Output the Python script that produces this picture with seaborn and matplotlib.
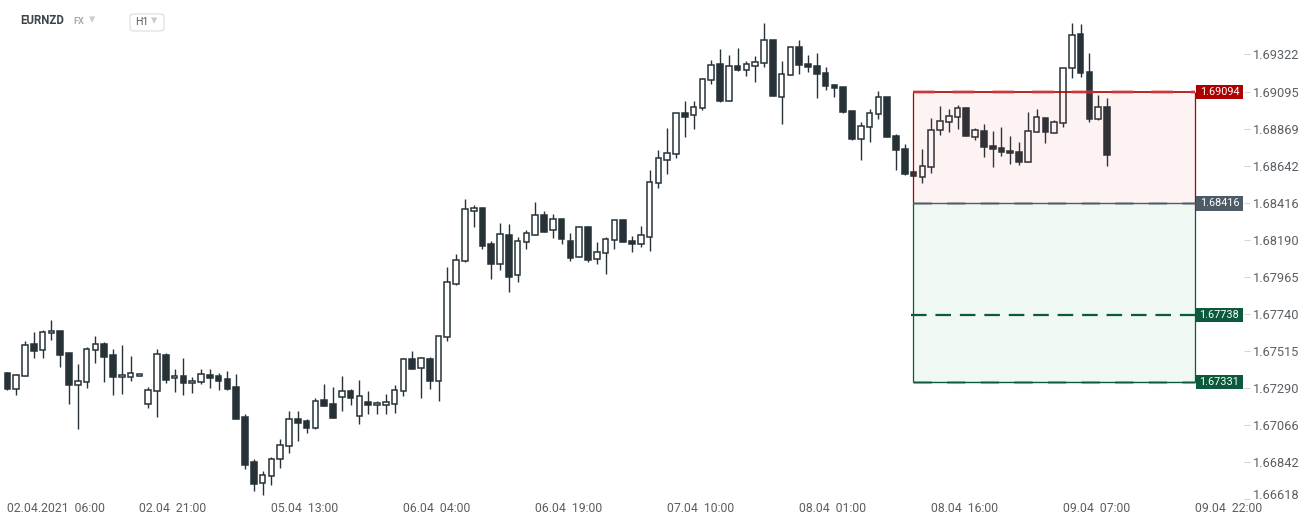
import seaborn as sns
import matplotlib.pyplot as plt
import matplotlib.patches as mpatches
import matplotlib.transforms as mtrans
import pandas as pd

# hourly EURNZD candles, 02.04.2021 06:00 onwards
opens = [1.67384, 1.67289, 1.67364, 1.67561, 1.67522, 1.67626, 1.67640, 1.67506, 1.67310, 1.67328,
         1.67522, 1.67561, 1.67494, 1.67358, 1.67358, 1.67364, 1.67194, 1.67273, 1.67494, 1.67352,
         1.67364, 1.67322, 1.67328, 1.67372, 1.67364, 1.67345, 1.67298, 1.67116, 1.66843, 1.66714,
         1.66756, 1.66859, 1.66939, 1.67104, 1.67090, 1.67051, 1.67220, 1.67194, 1.67237, 1.67275,
         1.67121, 1.67206, 1.67188, 1.67191, 1.67198, 1.67273, 1.67467, 1.67413, 1.67467, 1.67338,
         1.67602, 1.67928, 1.68063, 1.68367, 1.68386, 1.68169, 1.68049, 1.68222, 1.67978, 1.68179,
         1.68222, 1.68343, 1.68252, 1.68318, 1.68185, 1.68088, 1.68270, 1.68075, 1.68112, 1.68191,
         1.68312, 1.68185, 1.68167, 1.68209, 1.68538, 1.68677, 1.68714, 1.68963, 1.68951, 1.68994,
         1.69164, 1.69261, 1.69036, 1.69249, 1.69224, 1.69249, 1.69267, 1.69407, 1.69060, 1.69194,
         1.69364, 1.69261, 1.69249, 1.69206, 1.69133, 1.69121, 1.68975, 1.68805, 1.68878, 1.68957,
         1.69060, 1.68823, 1.68744, 1.68604, 1.68574, 1.68635, 1.68860, 1.68908, 1.68939, 1.68994,
         1.68817, 1.68854, 1.68762, 1.68750, 1.68732, 1.68726, 1.68665, 1.68848, 1.68933, 1.68842,
         1.68902, 1.69237, 1.69443, 1.69212, 1.68927, 1.69000]
highs = [1.67390, 1.67378, 1.67579, 1.67634, 1.67646, 1.67706, 1.67640, 1.67506, 1.67439, 1.67542,
         1.67610, 1.67573, 1.67530, 1.67555, 1.67488, 1.67376, 1.67298, 1.67530, 1.67506, 1.67408,
         1.67475, 1.67359, 1.67408, 1.67408, 1.67384, 1.67396, 1.67378, 1.67135, 1.66861, 1.66788,
         1.66873, 1.66983, 1.67153, 1.67153, 1.67104, 1.67232, 1.67318, 1.67299, 1.67366, 1.67287,
         1.67342, 1.67275, 1.67214, 1.67257, 1.67312, 1.67475, 1.67518, 1.67481, 1.67481, 1.67608,
         1.68027, 1.68106, 1.68440, 1.68406, 1.68386, 1.68185, 1.68296, 1.68290, 1.68211, 1.68254,
         1.68422, 1.68367, 1.68351, 1.68318, 1.68236, 1.68270, 1.68276, 1.68181, 1.68209, 1.68312,
         1.68318, 1.68216, 1.68276, 1.68618, 1.68740, 1.68874, 1.68963, 1.69040, 1.69040, 1.69176,
         1.69285, 1.69354, 1.69318, 1.69360, 1.69279, 1.69312, 1.69510, 1.69407, 1.69279, 1.69364,
         1.69407, 1.69316, 1.69328, 1.69243, 1.69139, 1.69121, 1.68975, 1.68908, 1.68987, 1.69097,
         1.69060, 1.68835, 1.68775, 1.68604, 1.68744, 1.68933, 1.69006, 1.68987, 1.69012, 1.69000,
         1.68872, 1.68896, 1.68854, 1.68878, 1.68823, 1.68787, 1.68969, 1.68987, 1.68933, 1.68921,
         1.69237, 1.69510, 1.69504, 1.69328, 1.69073, 1.69054]
lows = [1.67283, 1.67252, 1.67364, 1.67477, 1.67477, 1.67587, 1.67422, 1.67198, 1.67045, 1.67295,
        1.67447, 1.67332, 1.67252, 1.67259, 1.67338, 1.67364, 1.67173, 1.67118, 1.67326, 1.67271,
        1.67252, 1.67265, 1.67320, 1.67295, 1.67283, 1.67283, 1.67106, 1.66802, 1.66669, 1.66644,
        1.66705, 1.66808, 1.66900, 1.66973, 1.67022, 1.67045, 1.67185, 1.67112, 1.67155, 1.67191,
        1.67076, 1.67137, 1.67137, 1.67137, 1.67143, 1.67246, 1.67410, 1.67234, 1.67289, 1.67214,
        1.67581, 1.67918, 1.68057, 1.68273, 1.68140, 1.67957, 1.68008, 1.67879, 1.67940, 1.68140,
        1.68222, 1.68244, 1.68207, 1.68171, 1.68067, 1.68088, 1.68061, 1.68049, 1.67988, 1.68140,
        1.68179, 1.68118, 1.68149, 1.68124, 1.68508, 1.68596, 1.68690, 1.68821, 1.68866, 1.68981,
        1.69140, 1.69030, 1.69036, 1.69218, 1.69188, 1.69152, 1.69243, 1.69066, 1.68896, 1.69194,
        1.69200, 1.69212, 1.69054, 1.69103, 1.69060, 1.68963, 1.68799, 1.68677, 1.68787, 1.68927,
        1.68817, 1.68616, 1.68590, 1.68580, 1.68538, 1.68598, 1.68830, 1.68851, 1.68866, 1.68823,
        1.68799, 1.68696, 1.68635, 1.68702, 1.68653, 1.68647, 1.68665, 1.68848, 1.68781, 1.68842,
        1.68878, 1.69176, 1.69182, 1.68908, 1.68921, 1.68641]
closes = [1.67289, 1.67370, 1.67553, 1.67520, 1.67632, 1.67638, 1.67495, 1.67313, 1.67334, 1.67528,
          1.67559, 1.67483, 1.67361, 1.67370, 1.67382, 1.67376, 1.67279, 1.67498, 1.67343, 1.67364,
          1.67326, 1.67334, 1.67376, 1.67355, 1.67338, 1.67289, 1.67106, 1.66826, 1.66712, 1.66762,
          1.66859, 1.66945, 1.67102, 1.67082, 1.67051, 1.67214, 1.67185, 1.67112, 1.67275, 1.67234,
          1.67243, 1.67191, 1.67200, 1.67206, 1.67279, 1.67467, 1.67410, 1.67474, 1.67338, 1.67608,
          1.67936, 1.68069, 1.68379, 1.68386, 1.68158, 1.68049, 1.68228, 1.67969, 1.68185, 1.68234,
          1.68343, 1.68244, 1.68318, 1.68201, 1.68085, 1.68270, 1.68073, 1.68118, 1.68197, 1.68312,
          1.68179, 1.68167, 1.68222, 1.68544, 1.68690, 1.68720, 1.68963, 1.68939, 1.69000, 1.69170,
          1.69255, 1.69036, 1.69249, 1.69224, 1.69261, 1.69273, 1.69407, 1.69066, 1.69200, 1.69364,
          1.69255, 1.69243, 1.69200, 1.69127, 1.69115, 1.68969, 1.68805, 1.68884, 1.68963, 1.69060,
          1.68817, 1.68738, 1.68596, 1.68580, 1.68641, 1.68860, 1.68915, 1.68945, 1.68994, 1.68823,
          1.68860, 1.68756, 1.68744, 1.68726, 1.68720, 1.68665, 1.68854, 1.68939, 1.68848, 1.68908,
          1.69237, 1.69437, 1.69206, 1.68927, 1.69000, 1.68708]

time_labels = ['02.04.2021  06:00', '02.04  21:00', '05.04  13:00', '06.04  04:00', '06.04  19:00',
               '07.04  10:00', '08.04  01:00', '08.04  16:00', '09.04  07:00', '09.04  22:00']
label_step = 15  # candles between time labels

price_ticks = [1.69322, 1.69095, 1.68869, 1.68642, 1.68416, 1.68190, 1.67965,
               1.67740, 1.67515, 1.67290, 1.67066, 1.66842, 1.66618]

# short position tool
box_open_candle = 103
box_close_candle = 135
stop_loss = 1.69094
entry = 1.68416
take_profit_1 = 1.67738
take_profit_2 = 1.67331

df = pd.DataFrame({'open': opens, 'high': highs, 'low': lows, 'close': closes})
df['idx'] = range(len(df))
df['bull'] = df['close'] >= df['open']

dark = '#263238'
red = '#ad0000'
slate = '#4d5b66'
green = '#0b5a3b'
tick_grey = '#5a5f64'

sns.set_style('white')
plt.rcParams['font.family'] = ['Roboto', 'DejaVu Sans']

W, H = 1312, 525
fig = plt.figure(figsize=(W / 100, H / 100), dpi=100)
ax_bottom = 24
ax = fig.add_axes([0, ax_bottom / H, 1250 / W, (H - ax_bottom) / H])

# wicks
ax.vlines(df['idx'], df['low'], df['high'], color=dark, lw=1.0, zorder=2)

# bodies
body_lo = df[['open', 'close']].min(axis=1)
body_h = (df['close'] - df['open']).abs().clip(lower=0.00004)
face = ['white' if b else dark for b in df['bull']]
ax.bar(df['idx'], body_h, bottom=body_lo, width=0.64, color=face,
       edgecolor=dark, linewidth=1.1, zorder=3)

# position box
x0 = box_open_candle - 0.1
x1 = box_close_candle
ax.add_patch(mpatches.Rectangle((x0, entry), x1 - x0, stop_loss - entry,
                                facecolor='#e53935', alpha=0.06, edgecolor='none', zorder=4))
ax.add_patch(mpatches.Rectangle((x0, take_profit_2), x1 - x0, entry - take_profit_2,
                                facecolor='#1e9e60', alpha=0.065, edgecolor='none', zorder=4))
ax.vlines([x0, x1], entry, stop_loss, color=red, lw=0.9, zorder=5)
ax.vlines([x0, x1], take_profit_2, entry, color=green, lw=0.9, zorder=5)

ax.hlines(stop_loss, x0, x1, color=red, lw=1.2, zorder=5)
ax.hlines(stop_loss, x0, x1, color='#d84848', lw=2.6, alpha=0.5, linestyles=(0, (6, 5)), zorder=5)
ax.hlines(entry, x0, x1, color=slate, lw=1.0, zorder=5)
ax.hlines(entry, x0, x1, color=slate, lw=2.2, alpha=0.4, linestyles=(0, (6, 5)), zorder=5)
ax.hlines(take_profit_1, x0 - 0.2, x1, color=green, lw=1.6, linestyles=(0, (7, 4)), zorder=5)
ax.hlines(take_profit_2, x0, x1, color=green, lw=1.0, zorder=5)
ax.hlines(take_profit_2, x0, x1, color=green, lw=2.2, alpha=0.4, linestyles=(0, (6, 5)), zorder=5)

# price tags on the right
tag_w = 5.35
tag_h = 0.00088
for price, col in [(stop_loss, red), (entry, slate), (take_profit_1, green), (take_profit_2, green)]:
    ax.add_patch(mpatches.Rectangle((x1 + 0.1, price - tag_h / 2), tag_w, tag_h,
                                    facecolor=col, edgecolor='none', zorder=6, clip_on=False))
    ax.text(x1 + 0.1 + tag_w / 2, price, f'{price:.5f}', color='white', fontsize=7.8,
            ha='center', va='center', zorder=7)

ax.set_xlim(-0.85, 141.25)
ax.set_ylim(1.69652 - 0.0000608 * (H - ax_bottom), 1.69652)

for s in ax.spines.values():
    s.set_visible(False)

ax.set_xticks(range(0, len(time_labels) * label_step, label_step))
ax.set_xticklabels(time_labels, ha='left')
ax.tick_params(axis='x', direction='in', length=2, width=0.8, color='#e6e6e6', pad=1,
               labelsize=8.8, labelcolor=tick_grey)

ax.yaxis.tick_right()
ax.set_yticks(price_ticks)
ax.set_yticklabels([f'{p:.5f}' for p in price_ticks])
ax.tick_params(axis='y', direction='in', length=4, width=0.8, color='#d5d5d5', pad=2,
               labelsize=9.2, labelcolor=tick_grey)
last = ax.get_yticklabels()[-1]
last.set_transform(last.get_transform() + mtrans.ScaledTranslation(0, 5 / 100, fig.dpi_scale_trans))

# header
fig.text(20 / W, 1 - 21 / H, 'EURNZD', fontsize=8.3, fontweight='bold', color='#3d4449', va='center')
fig.text(73 / W, 1 - 21 / H, 'FX', fontsize=6.6, fontweight='bold', color='#a8adb2', va='center')
fig.text(89 / W, 1 - 20 / H, '\u25BE', fontsize=9, color='#c9cdd1', va='center')
fig.patches.append(mpatches.FancyBboxPatch((130 / W, 1 - 31 / H), 34 / W, 17 / H,
                                           boxstyle='round,pad=0,rounding_size=0.004',
                                           transform=fig.transFigure, facecolor='white',
                                           edgecolor='#dadde0', lw=0.8))
fig.text(135 / W, 1 - 22 / H, 'H1', fontsize=7.6, color='#555b61', va='center')
fig.text(151 / W, 1 - 21 / H, '\u25BE', fontsize=9, color='#c9cdd1', va='center')

fig.savefig('out.png', dpi=100)
